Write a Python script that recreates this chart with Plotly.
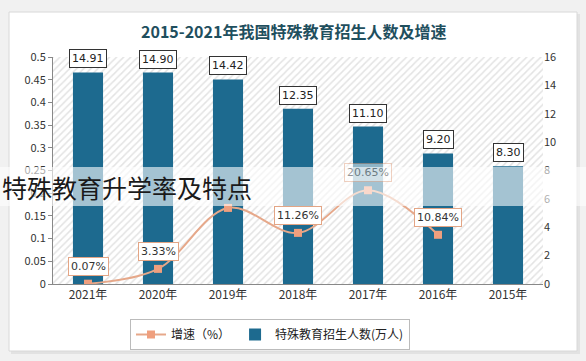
import plotly.graph_objects as go

years = ["2021年", "2020年", "2019年", "2018年", "2017年", "2016年", "2015年"]
enroll = [14.91, 14.90, 14.42, 12.35, 11.10, 9.20, 8.30]
growth = [0.0007, 0.0333, 0.1676, 0.1126, 0.2065, 0.1084]
growth_years = years[:6]
growth_labels = ["0.07%", "3.33%", "16.76%", "11.26%", "20.65%", "10.84%"]
bar_labels = ["14.91", "14.90", "14.42", "12.35", "11.10", "9.20", "8.30"]
left_ticks = [0, 0.05, 0.1, 0.15, 0.2, 0.25, 0.3, 0.35, 0.4, 0.45, 0.5]
left_ticktext = ["0", "0.05", "0.1", "0.15", "0.2", "0.25", "0.3", "0.35", "0.4", "0.45", "0.5"]
right_ticks = [0, 2, 4, 6, 8, 10, 12, 14, 16]

W, H = 586, 361
L, R, T, B = 53, 43, 57, 77
pw, ph = W - L - R, H - T - B

def px(x):
    return (x - L) / pw

def py(y):
    return (H - B - y) / ph

fig = go.Figure()

# hatched plot background
fig.add_trace(go.Bar(
    x=years, y=[16] * len(years), yaxis="y", width=1.0,
    marker=dict(color="white", line=dict(width=0),
                pattern=dict(shape="/", fgcolor="#c8c8c8", bgcolor="white", size=5, solidity=0.3)),
    showlegend=False, hoverinfo="skip"))

fig.add_trace(go.Bar(
    x=years, y=enroll, yaxis="y", width=0.43, name="特殊教育招生人数(万人)",
    marker=dict(color="#1d6a8f", line=dict(width=0))))

fig.add_trace(go.Scatter(
    x=growth_years, y=growth, yaxis="y2", name="增速（%）", mode="lines+markers",
    line=dict(color="#e6a88a", width=2, shape="spline"),
    marker=dict(symbol="square", size=8, color="#ef9f7e")))

anns = []
for yr, v, t in zip(years, enroll, bar_labels):
    anns.append(dict(x=yr, y=v, yref="y", xref="x", text=t, showarrow=False,
                     yanchor="bottom", yshift=4,
                     font=dict(family="DejaVu Sans", size=11, color="#222"),
                     bgcolor="white", bordercolor="#333", borderwidth=1, borderpad=2))
for yr, v, t in zip(growth_years, growth, growth_labels):
    if t == "16.76%":
        continue
    inband = 0.15 < v < 0.25
    anns.append(dict(x=yr, y=v, yref="y2", xref="x", text=t, showarrow=False,
                     yanchor="bottom", yshift=8,
                     opacity=0.5 if inband else 1,
                     font=dict(family="DejaVu Sans", size=11, color="#333"),
                     bgcolor="white", bordercolor="#e3a585", borderwidth=1, borderpad=2))

anns.append(dict(xref="paper", yref="paper", x=px(W / 2), y=py(31), yanchor="middle",
                 text="<b>2015-2021年我国特殊教育招生人数及增速</b>",
                 showarrow=False, font=dict(family="Noto Sans CJK SC", size=16, color="#1f4f5e")))
anns.append(dict(xref="paper", yref="paper", x=px(0), y=py(187), xanchor="left", yanchor="middle",
                 text="特殊教育升学率及特点",
                 showarrow=False, font=dict(family="Noto Sans CJK SC", size=25, color="#1a1a1a")))

shapes = [
    dict(type="rect", xref="paper", yref="paper", x0=px(11), x1=px(580), y0=py(14), y1=py(354),
         fillcolor="#e2e2e2", line=dict(width=0), layer="below"),
    dict(type="rect", xref="paper", yref="paper", x0=px(9), x1=px(577), y0=py(12), y1=py(351),
         fillcolor="white", line=dict(color="#d8d8d8", width=1), layer="below"),
    dict(type="rect", xref="paper", yref="paper", x0=px(0), x1=px(W), y0=py(167), y1=py(206),
         fillcolor="rgba(255,255,255,0.6)", line=dict(width=0), layer="above"),
]

fig.update_layout(
    width=W, height=H, margin=dict(l=L, r=R, t=T, b=B, autoexpand=False),
    paper_bgcolor="#f1f1f1", plot_bgcolor="white",
    barmode="overlay",
    font=dict(family="Noto Sans CJK SC", size=11, color="#333"),
    xaxis=dict(type="category", categoryorder="array", categoryarray=years,
               showgrid=False, showline=True, linecolor="#888", ticks="",
               tickfont=dict(size=12, color="#333"), range=[-0.5, 6.5]),
    yaxis=dict(side="right", range=[0, 16], tickvals=right_ticks, showgrid=False,
               showline=False, zeroline=False, ticks="", ticklen=4,
               tickfont=dict(size=11, color="#333")),
    yaxis2=dict(side="left", overlaying="y", range=[0, 0.5], tickvals=left_ticks, ticktext=left_ticktext,
                showgrid=False, showline=True, linecolor="#888", zeroline=False,
                ticks="outside", ticklen=4, tickcolor="#888",
                tickfont=dict(size=11, color="#333")),
    legend=dict(orientation="h", xref="container", yref="container",
                x=270 / W, xanchor="center", y=1 - 319 / H, yanchor="top",
                bordercolor="#bbb", borderwidth=1, bgcolor="white",
                traceorder="reversed", font=dict(size=12, color="#222")),
    annotations=anns, shapes=shapes,
)

fig.write_html("out.html", config={"displayModeBar": False},
               post_script="document.body.style.margin='0';")
